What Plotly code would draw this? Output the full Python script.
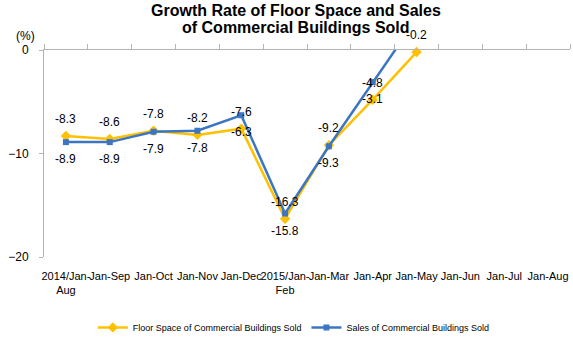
import plotly.graph_objects as go

# Periods (year-to-date accumulations)
categories = ["2014/Jan-<br>Aug", "Jan-Sep", "Jan-Oct", "Jan-Nov", "Jan-Dec",
              "2015/Jan-<br>Feb", "Jan-Mar", "Jan-Apr", "Jan-May", "Jan-Jun",
              "Jan-Jul", "Jan-Aug"]

# Year-on-year growth rate (%)
floor_space = [-8.3, -8.6, -7.8, -8.2, -7.6, -16.3, -9.2, -4.8, -0.2, None, None, None]
sales = [-8.9, -8.9, -7.9, -7.8, -6.3, -15.8, -9.3, -3.1, 3.0, None, None, None]

y_ticks = [-20, -10, 0]
y_range = [-20, 0]

title_lines = ["Growth Rate of Floor Space and Sales", "of Commercial Buildings Sold"]

ORANGE = "#FFC000"
BLUE = "#3C76C3"
AXIS_GRAY = "#B4B4B4"
FONT = "Liberation Sans, Arial, sans-serif"

fig = go.Figure()

fig.add_trace(go.Scatter(
    x=categories, y=floor_space, name="Floor Space of Commercial Buildings Sold",
    mode="lines+markers", line=dict(color=ORANGE, width=2.5),
    marker=dict(symbol="diamond", size=8, color=ORANGE),
    cliponaxis=False, hoverinfo="x+y",
))
fig.add_trace(go.Scatter(
    x=categories, y=sales, name="Sales of Commercial Buildings Sold",
    mode="lines+markers", line=dict(color=BLUE, width=2.5),
    marker=dict(symbol="square", size=6, color=BLUE),
    cliponaxis=True, hoverinfo="x+y",
))
# carrier for the top category axis (boundary ticks)
fig.add_trace(go.Scatter(
    x=categories, y=[None] * len(categories), xaxis="x2", mode="lines",
    showlegend=False, hoverinfo="skip",
))

# value labels: floor space above its point, sales below its point
annotations = []
for series, shift in ((floor_space, 17), (sales, -17)):
    for cat, v in zip(categories, series):
        if v is None or v > y_range[1] or v < y_range[0]:
            continue
        annotations.append(dict(
            x=cat, y=v, xref="x", yref="y", text=f"{v}", showarrow=False,
            yshift=shift, font=dict(family=FONT, size=12, color="#000000"),
        ))

# unit label above the value axis
annotations.append(dict(
    x=0, y=1, xref="paper", yref="paper", text="(%)", showarrow=False,
    xanchor="center", yanchor="middle", xshift=-19, yshift=14,
    font=dict(family=FONT, size=12, color="#000000"),
))

# chart title, one annotation per line for tight line spacing
for line, shift in zip(title_lines, (40, 23)):
    annotations.append(dict(
        x=0.5, y=1, xref="paper", yref="paper", text=f"<b>{line}</b>",
        showarrow=False, xanchor="center", yanchor="middle",
        yshift=shift, xshift=-11,
        font=dict(family=FONT, size=16, color="#000000"),
    ))

fig.update_layout(
    width=573, height=339,
    margin=dict(l=44, r=3, t=50, b=82, autoexpand=False),
    paper_bgcolor="white", plot_bgcolor="white",
    font=dict(family=FONT, color="#000000"),
    xaxis=dict(
        type="category", categoryorder="array", categoryarray=categories,
        range=[-0.5, len(categories) - 0.5], automargin=False,
        showline=False, showgrid=False, zeroline=False, ticks="",
        tickangle=0, ticklabelstandoff=11,
        tickfont=dict(family=FONT, size=11, color="#000000"),
    ),
    xaxis2=dict(
        type="category", categoryorder="array", categoryarray=categories,
        range=[-0.5, len(categories) - 0.5], overlaying="x", side="top",
        anchor="y", matches="x", automargin=False,
        showline=True, linecolor=AXIS_GRAY, linewidth=1,
        ticks="outside", tickson="boundaries", ticklen=5, tickcolor=AXIS_GRAY,
        showticklabels=False, showgrid=False, zeroline=False,
    ),
    yaxis=dict(
        range=y_range, tickvals=y_ticks, showgrid=False, zeroline=False,
        showline=True, linecolor=AXIS_GRAY, linewidth=1, automargin=False,
        ticks="outside", ticklen=4, tickcolor=AXIS_GRAY,
        ticklabelstandoff=8,
        tickfont=dict(family=FONT, size=12, color="#000000"),
    ),
    legend=dict(
        orientation="h", x=0.475, xanchor="center", y=-0.27, yanchor="top",
        font=dict(family=FONT, size=9, color="#000000"),
        itemwidth=30, tracegroupgap=0,
    ),
    annotations=annotations,
    showlegend=True,
)

fig.write_html("out.html")
